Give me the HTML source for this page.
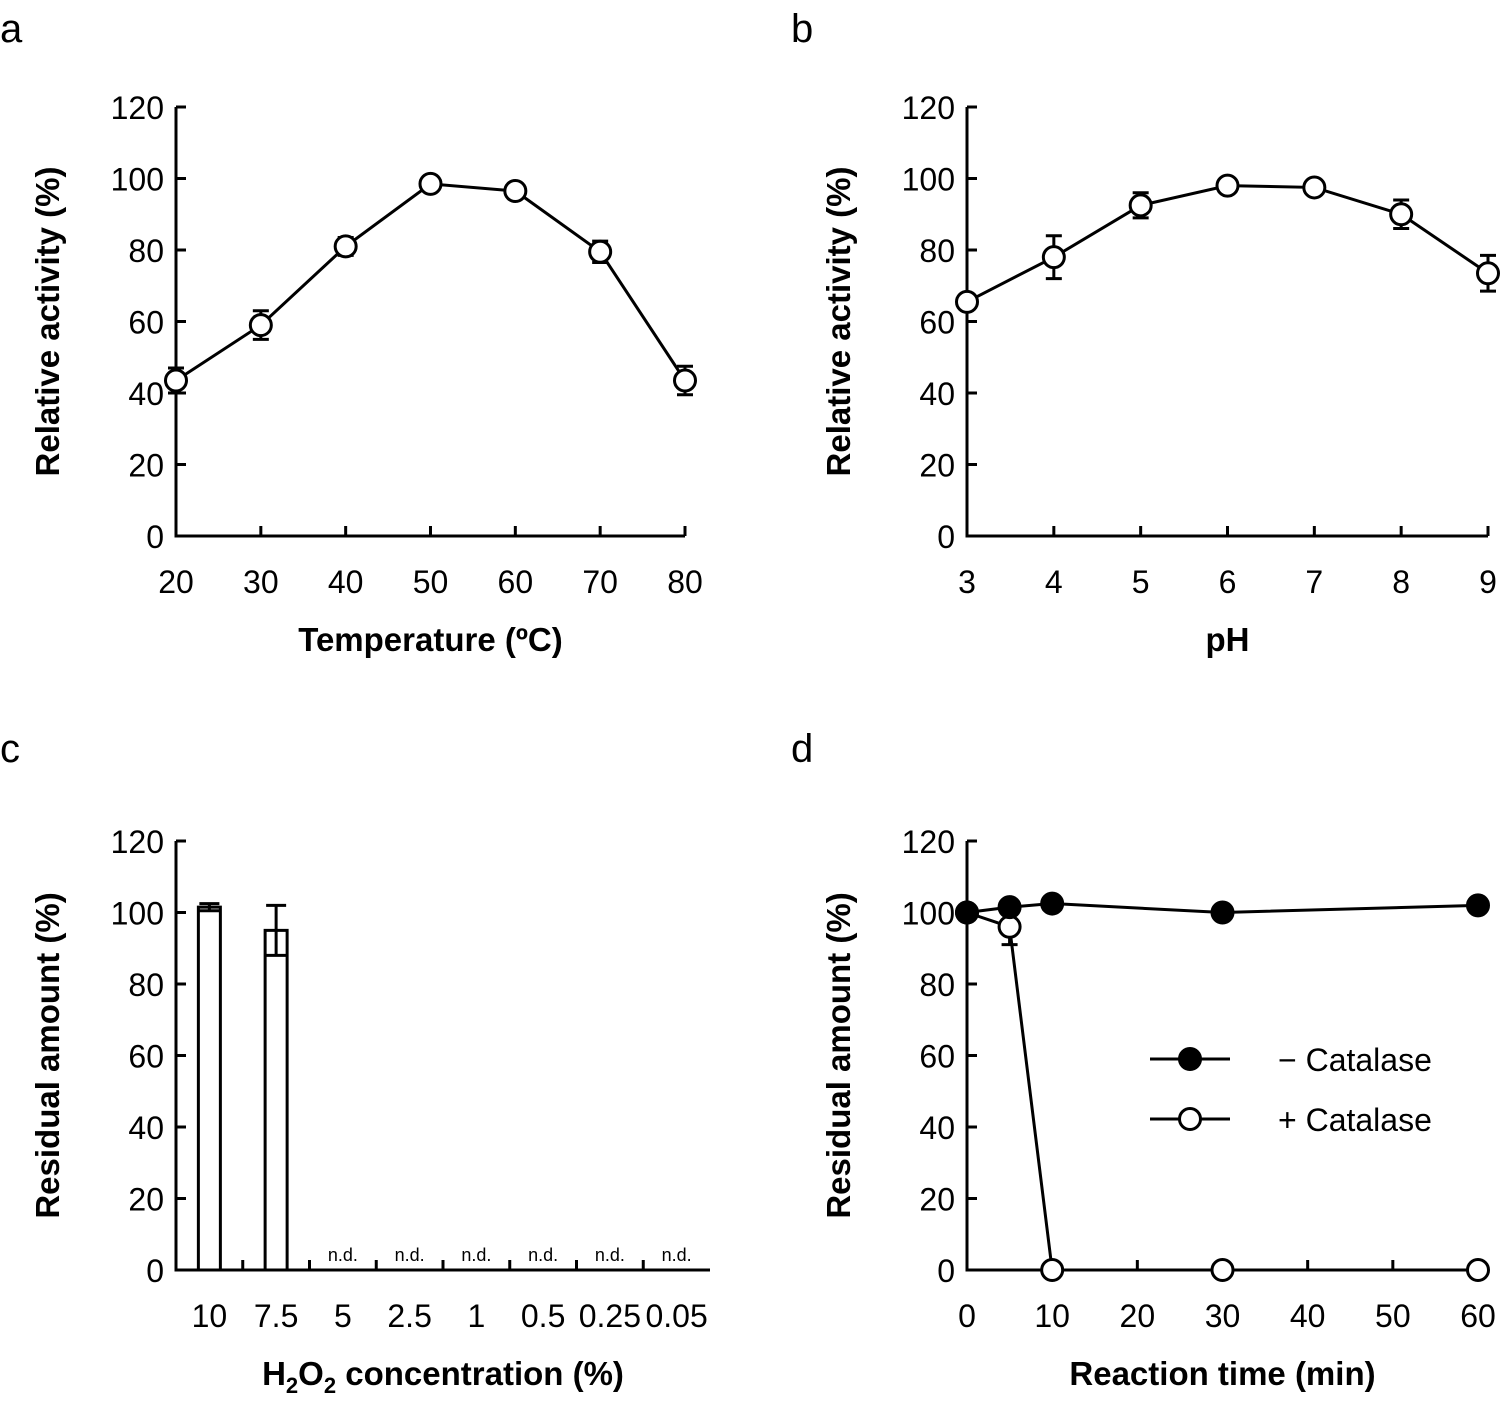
<!DOCTYPE html>
<html><head><meta charset="utf-8"><style>
body{margin:0;background:#fff;}
svg{display:block;font-family:"Liberation Sans",Arial,sans-serif;}
</style></head><body>
<svg id="fig" width="1502" height="1403" viewBox="0 0 1502 1403" xmlns="http://www.w3.org/2000/svg"></svg>
<script>
// Panel a data
const tempX = [20,30,40,50,60,70,80];
const tempY = [43.5,59,81,98.5,96.5,79.5,43.5];
const tempErr = [3.5,4,2.5,1,1,3,4];
// Panel b data
const phX = [3,4,5,6,7,8,9];
const phY = [65.5,78,92.5,98,97.5,90,73.5];
const phErr = [1,6,3.5,1,2,4,5];
// Panel c data
const h2o2Cats = ["10","7.5","5","2.5","1","0.5","0.25","0.05"];
const h2o2Vals = [101.5,95,null,null,null,null,null,null];
const h2o2Err = [1,7,0,0,0,0,0,0];
// Panel d data
const timeX = [0,5,10,30,60];
const minusCat = [100,101.5,102.5,100,102];
const minusErr = [1,1,1,1,1];
const plusCat = [100,96,0,0,0];
const plusErr = [1,5,0,0,0];
const yTicks = [0,20,40,60,80,100,120];

const NS="http://www.w3.org/2000/svg";
const svg=document.getElementById('fig');
function el(tag,attrs,parent){const e=document.createElementNS(NS,tag);for(const k in attrs)e.setAttribute(k,attrs[k]);(parent||svg).appendChild(e);return e;}
function txt(s,x,y,size,anchor,weight,parent){const t=el('text',{x:x,y:y,'font-size':size,'text-anchor':anchor||'middle','font-weight':weight||'normal',fill:'#000'},parent);t.textContent=s;return t;}

function panel(name,letter,lx,ly,x0,y0,x1,y1,xMin,xMax,xTicks,ylabel,xlabel){
  const g=el('g',{});
  
  
  const sx=v=>x0+(v-xMin)/(xMax-xMin)*(x1-x0);
  const sy=v=>y0-(v/120)*(y0-y1);
  const L=txt(letter,lx,ly,40,'start','normal',g);
  
  
  const ya=el('line',{x1:x0,y1:y0+1.5,x2:x0,y2:y1,stroke:'#000','stroke-width':3},g);
  
  
  const xa=el('line',{x1:x0-1.5,y1:y0,x2:x1,y2:y0,stroke:'#000','stroke-width':3},g);
  
  
  yTicks.forEach(v=>{
    el('line',{x1:x0,y1:sy(v),x2:x0+10,y2:sy(v),stroke:'#000','stroke-width':3},g);
    const t=txt(String(v),x0-12,sy(v)+12,32,'end','normal',g);
    
    
  });
  if(xTicks){xTicks.forEach(v=>{
    el('line',{x1:sx(v),y1:y0,x2:sx(v),y2:y0-10,stroke:'#000','stroke-width':3},g);
    const t=txt(String(v),sx(v),y0+57,32,'middle','normal',g);
    
    
  });}
  const yt=txt(ylabel,0,0,33,'middle','bold',g);
  yt.setAttribute('transform','translate('+(x0-117)+','+((y0+y1)/2)+') rotate(-90)');
  
  
  const xt=txt('',(x0+x1)/2,y0+115,33,'middle','bold',g);
  xt.innerHTML=xlabel;
  
  
  return {g,sx,sy};
}
function series(p,xs,ys,errs,fill,name){
  const pts=xs.map((x,i)=>p.sx(x)+','+p.sy(ys[i])).join(' ');
  const line=el('polyline',{points:pts,fill:'none',stroke:'#000','stroke-width':3},p.g);
  
  
  xs.forEach((x,i)=>{
    const cx=p.sx(x),cy=p.sy(ys[i]),e=errs[i];
    if(e>0){
      const eb=el('path',{d:'M'+cx+','+p.sy(ys[i]+e)+'V'+p.sy(ys[i]-e)+'M'+(cx-8)+','+p.sy(ys[i]+e)+'H'+(cx+8)+'M'+(cx-8)+','+p.sy(ys[i]-e)+'H'+(cx+8),stroke:'#000','stroke-width':3,fill:'none'},p.g);
      
      
    }
    const c=el('circle',{cx:cx,cy:cy,r:10.5,fill:fill,stroke:'#000','stroke-width':3},p.g);
    
    
  });
}

// a
const pa=panel('panel-a-temperature','a',0,42,176,536,685,107,20,80,tempX,'Relative activity (%)','Temperature (ºC)');
series(pa,tempX,tempY,tempErr,'#fff','temperature');
// b
const pb=panel('panel-b-ph','b',791,42,967,536,1488,107,3,9,phX,'Relative activity (%)','pH');
series(pb,phX,phY,phErr,'#fff','ph');
// c
const pc=panel('panel-c-h2o2','c',0,762,176,1270,710,841,0,8,null,'Residual amount (%)','H<tspan font-size="22" dy="8">2</tspan><tspan dy="-8">O</tspan><tspan font-size="22" dy="8">2</tspan><tspan dy="-8"> concentration (%)</tspan>');
const cw=(710-176)/h2o2Cats.length;
h2o2Cats.forEach((c,i)=>{
  const cx=176+cw*(i+0.5);
  if(i>0){el('line',{x1:176+cw*i,y1:1270,x2:176+cw*i,y2:1260,stroke:'#000','stroke-width':3},pc.g);}
  const t=txt(c,cx,1327,32,'middle','normal',pc.g);
  
  
  const v=h2o2Vals[i];
  if(v!==null){
    const b=el('rect',{x:cx-11,y:pc.sy(v),width:22,height:1270-pc.sy(v),fill:'#fff',stroke:'#000','stroke-width':3},pc.g);
    
    
    const e=h2o2Err[i];
    const eb=el('path',{d:'M'+cx+','+pc.sy(v+e)+'V'+pc.sy(v-e)+'M'+(cx-10)+','+pc.sy(v+e)+'H'+(cx+10)+'M'+(cx-10)+','+pc.sy(v-e)+'H'+(cx+10),stroke:'#000','stroke-width':3,fill:'none'},pc.g);
    
    
  } else {
    const t2=txt('n.d.',cx,1261,18,'middle','normal',pc.g);
    
    
  }
});
// d
const pd=panel('panel-d-time','d',791,762,967,1270,1478,841,0,60,[0,10,20,30,40,50,60],'Residual amount (%)','Reaction time (min)');
series(pd,timeX,plusCat,plusErr,'#fff','plus-catalase');
series(pd,timeX,minusCat,minusErr,'#000','minus-catalase');
// legend
[['− Catalase','#000',1059,'legend-minus-catalase'],['+ Catalase','#fff',1119,'legend-plus-catalase']].forEach(l=>{
  const lg=el('g',{},pd.g);
  
  
  el('line',{x1:1150,y1:l[2],x2:1230,y2:l[2],stroke:'#000','stroke-width':3},lg);
  el('circle',{cx:1190,cy:l[2],r:10.5,fill:l[1],stroke:'#000','stroke-width':3},lg);
  txt(l[0],1278,l[2]+12,32,'start','normal',lg);
});
</script>
</body></html>
